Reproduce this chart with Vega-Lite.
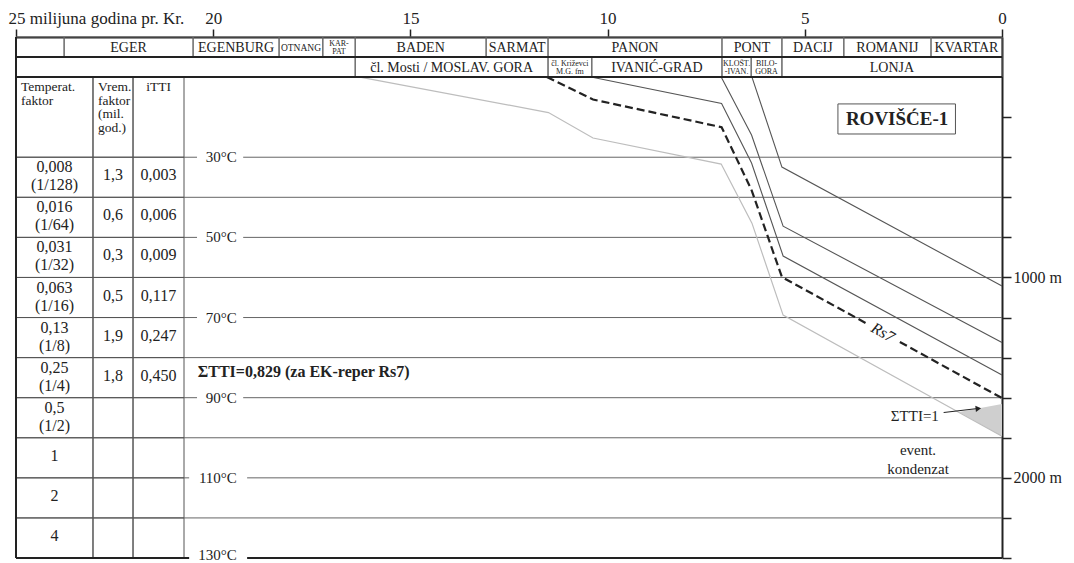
{
  "$schema": "https://vega.github.io/schema/vega-lite/v6.json",
  "width": 986,
  "height": 521,
  "autosize": {"type": "none"},
  "padding": {"left": 16, "top": 37, "right": 72, "bottom": 5},
  "background": "white",
  "config": {"view": {"stroke": null}, "font": "Liberation Serif"},
  "datasets": {
    "hdr": [
      {"t": 25, "t2": 23.78, "d": -200, "d2": -100, "name": "", "kind": "big"},
      {"t": 23.78, "t2": 20.51, "d": -200, "d2": -100, "name": "EGER", "kind": "big"},
      {"t": 20.51, "t2": 18.33, "d": -200, "d2": -100, "name": "EGENBURG", "kind": "big"},
      {"t": 18.33, "t2": 17.22, "d": -200, "d2": -100, "name": "OTNANG", "kind": "mid"},
      {"t": 17.22, "t2": 16.4, "d": -200, "d2": -100, "name": "KAR-\nPAT", "kind": "small"},
      {"t": 16.4, "t2": 13.08, "d": -200, "d2": -100, "name": "BADEN", "kind": "big"},
      {"t": 13.08, "t2": 11.51, "d": -200, "d2": -100, "name": "SARMAT", "kind": "big"},
      {"t": 11.51, "t2": 7.1, "d": -200, "d2": -100, "name": "PANON", "kind": "big"},
      {"t": 7.1, "t2": 5.58, "d": -200, "d2": -100, "name": "PONT", "kind": "big"},
      {"t": 5.58, "t2": 4.01, "d": -200, "d2": -100, "name": "DACIJ", "kind": "big"},
      {"t": 4.01, "t2": 1.8, "d": -200, "d2": -100, "name": "ROMANIJ", "kind": "big"},
      {"t": 1.8, "t2": 0, "d": -200, "d2": -100, "name": "KVARTAR", "kind": "big"},
      {"t": 25, "t2": 16.4, "d": -100, "d2": 0, "name": "", "kind": "big"},
      {"t": 16.4, "t2": 11.51, "d": -100, "d2": 0, "name": "čl. Mosti / MOSLAV. GORA", "kind": "big"},
      {"t": 11.51, "t2": 10.4, "d": -100, "d2": 0, "name": "čl. Križevci\nM.G. fm", "kind": "small"},
      {"t": 10.4, "t2": 7.1, "d": -100, "d2": 0, "name": "IVANIĆ-GRAD", "kind": "big"},
      {"t": 7.1, "t2": 6.36, "d": -100, "d2": 0, "name": "KLOŠT.\n-IVAN.", "kind": "small"},
      {"t": 6.36, "t2": 5.58, "d": -100, "d2": 0, "name": "BILO-\nGORA", "kind": "small"},
      {"t": 5.58, "t2": 0, "d": -100, "d2": 0, "name": "LONJA", "kind": "big"}
    ],
    "tcells": [
      {"t": 25, "t2": 23.048, "d": 0, "d2": 400, "txt": "", "lines": 0},
      {"t": 23.048, "t2": 22.033, "d": 0, "d2": 400, "txt": "", "lines": 0},
      {"t": 22.033, "t2": 20.74, "d": 0, "d2": 400, "txt": "", "lines": 0},
      {"t": 25, "t2": 23.048, "d": 400, "d2": 600, "txt": "0,008\n(1/128)", "lines": 2},
      {"t": 23.048, "t2": 22.033, "d": 400, "d2": 600, "txt": "1,3", "lines": 1},
      {"t": 22.033, "t2": 20.74, "d": 400, "d2": 600, "txt": "0,003", "lines": 1},
      {"t": 25, "t2": 23.048, "d": 600, "d2": 800, "txt": "0,016\n(1/64)", "lines": 2},
      {"t": 23.048, "t2": 22.033, "d": 600, "d2": 800, "txt": "0,6", "lines": 1},
      {"t": 22.033, "t2": 20.74, "d": 600, "d2": 800, "txt": "0,006", "lines": 1},
      {"t": 25, "t2": 23.048, "d": 800, "d2": 1000, "txt": "0,031\n(1/32)", "lines": 2},
      {"t": 23.048, "t2": 22.033, "d": 800, "d2": 1000, "txt": "0,3", "lines": 1},
      {"t": 22.033, "t2": 20.74, "d": 800, "d2": 1000, "txt": "0,009", "lines": 1},
      {"t": 25, "t2": 23.048, "d": 1000, "d2": 1200, "txt": "0,063\n(1/16)", "lines": 2},
      {"t": 23.048, "t2": 22.033, "d": 1000, "d2": 1200, "txt": "0,5", "lines": 1},
      {"t": 22.033, "t2": 20.74, "d": 1000, "d2": 1200, "txt": "0,117", "lines": 1},
      {"t": 25, "t2": 23.048, "d": 1200, "d2": 1400, "txt": "0,13\n(1/8)", "lines": 2},
      {"t": 23.048, "t2": 22.033, "d": 1200, "d2": 1400, "txt": "1,9", "lines": 1},
      {"t": 22.033, "t2": 20.74, "d": 1200, "d2": 1400, "txt": "0,247", "lines": 1},
      {"t": 25, "t2": 23.048, "d": 1400, "d2": 1600, "txt": "0,25\n(1/4)", "lines": 2},
      {"t": 23.048, "t2": 22.033, "d": 1400, "d2": 1600, "txt": "1,8", "lines": 1},
      {"t": 22.033, "t2": 20.74, "d": 1400, "d2": 1600, "txt": "0,450", "lines": 1},
      {"t": 25, "t2": 23.048, "d": 1600, "d2": 1800, "txt": "0,5\n(1/2)", "lines": 2},
      {"t": 23.048, "t2": 22.033, "d": 1600, "d2": 1800, "txt": "", "lines": 0},
      {"t": 22.033, "t2": 20.74, "d": 1600, "d2": 1800, "txt": "", "lines": 0},
      {"t": 25, "t2": 23.048, "d": 1800, "d2": 2000, "txt": "1", "lines": 1},
      {"t": 23.048, "t2": 22.033, "d": 1800, "d2": 2000, "txt": "", "lines": 0},
      {"t": 22.033, "t2": 20.74, "d": 1800, "d2": 2000, "txt": "", "lines": 0},
      {"t": 25, "t2": 23.048, "d": 2000, "d2": 2200, "txt": "2", "lines": 1},
      {"t": 23.048, "t2": 22.033, "d": 2000, "d2": 2200, "txt": "", "lines": 0},
      {"t": 22.033, "t2": 20.74, "d": 2000, "d2": 2200, "txt": "", "lines": 0},
      {"t": 25, "t2": 23.048, "d": 2200, "d2": 2400, "txt": "4", "lines": 1},
      {"t": 23.048, "t2": 22.033, "d": 2200, "d2": 2400, "txt": "", "lines": 0},
      {"t": 22.033, "t2": 20.74, "d": 2200, "d2": 2400, "txt": "", "lines": 0}
    ],
    "theadl": [
      {"t": 25, "d": 0, "txt": "Temperat.\nfaktor"},
      {"t": 23.048, "d": 0, "txt": "Vrem.\nfaktor\n(mil.\ngod.)"}
    ],
    "theadc": [
      {"t": 22.033, "t2": 20.74, "d": 0, "txt": "iTTI"}
    ],
    "grid": [
      {"t": 20.74, "t2": 0, "d": 600},
      {"t": 20.74, "t2": 0, "d": 1000},
      {"t": 20.74, "t2": 0, "d": 1400},
      {"t": 20.74, "t2": 0, "d": 1800},
      {"t": 20.74, "t2": 0, "d": 2200},
      {"t": 20.74, "t2": 20.41, "d": 400},
      {"t": 19.24, "t2": 0, "d": 400},
      {"t": 20.74, "t2": 20.41, "d": 800},
      {"t": 19.24, "t2": 0, "d": 800},
      {"t": 20.74, "t2": 20.41, "d": 1200},
      {"t": 19.24, "t2": 0, "d": 1200},
      {"t": 20.74, "t2": 20.41, "d": 1600},
      {"t": 19.24, "t2": 0, "d": 1600},
      {"t": 20.74, "t2": 20.61, "d": 2000},
      {"t": 19.14, "t2": 0, "d": 2000}
    ],
    "frame": [
      {"t": 25, "t2": 25, "d": -200, "d2": 2400},
      {"t": 25, "t2": 0, "d": -100, "d2": -100},
      {"t": 25, "t2": 0, "d": 0, "d2": 0},
      {"t": 25, "t2": 20.61, "d": 2400, "d2": 2400},
      {"t": 19.14, "t2": 0, "d": 2400, "d2": 2400}
    ],
    "burial": [
      {"s": "A", "t": 16.28, "d": 0},
      {"s": "A", "t": 11.5, "d": 177},
      {"s": "A", "t": 10.37, "d": 304},
      {"s": "A", "t": 7.12, "d": 434},
      {"s": "A", "t": 6.34, "d": 729},
      {"s": "A", "t": 5.55, "d": 1188},
      {"s": "A", "t": 0, "d": 1792},
      {"s": "B1", "t": 11.54, "d": 0},
      {"s": "B1", "t": 10.37, "d": 112},
      {"s": "B1", "t": 7.11, "d": 250},
      {"s": "B1", "t": 6.35, "d": 564},
      {"s": "B1", "t": 5.58, "d": 998},
      {"s": "B1", "t": 3.45, "d": 1228},
      {"s": "B2", "t": 2.59, "d": 1322},
      {"s": "B2", "t": 0, "d": 1602},
      {"s": "C", "t": 10.42, "d": 0},
      {"s": "C", "t": 7.11, "d": 132},
      {"s": "C", "t": 6.35, "d": 429},
      {"s": "C", "t": 5.55, "d": 893},
      {"s": "C", "t": 0, "d": 1487},
      {"s": "E", "t": 7.12, "d": 0},
      {"s": "E", "t": 6.35, "d": 289},
      {"s": "E", "t": 5.55, "d": 744},
      {"s": "E", "t": 0, "d": 1325},
      {"s": "D", "t": 6.34, "d": 0},
      {"s": "D", "t": 5.58, "d": 449},
      {"s": "D", "t": 0, "d": 1043}
    ],
    "temps": [
      {"t": 19.4, "d": 400, "label": "30°C"},
      {"t": 19.4, "d": 800, "label": "50°C"},
      {"t": 19.4, "d": 1200, "label": "70°C"},
      {"t": 19.4, "d": 1600, "label": "90°C"},
      {"t": 19.4, "d": 2000, "label": "110°C"},
      {"t": 19.4, "d": 2400, "label": "130°C"}
    ]
  },
  "encoding": {
    "x": {
      "field": "t", "type": "quantitative",
      "scale": {"domain": [0, 25], "reverse": true, "nice": false, "zero": false},
      "axis": {
        "orient": "top", "values": [25, 20, 15, 10, 5, 0], "title": null, "grid": false,
        "tickSize": 8, "tickColor": "#222", "tickWidth": 1.5,
        "domainColor": "#222", "domainWidth": 2,
        "labelFont": "Liberation Serif", "labelFontSize": 17, "labelColor": "#222",
        "labelPadding": 2, "labelFlush": false, "labelOverlap": false,
        "labelExpr": "datum.value == 25 ? '25 milijuna godina pr. Kr.' : datum.label",
        "labelAlign": {"condition": {"test": "datum.value == 25", "value": "left"}, "value": "center"},
        "labelOffset": {"condition": {"test": "datum.value == 25", "value": -8}, "value": 0}
      }
    },
    "y": {
      "field": "d", "type": "quantitative",
      "scale": {"domain": [-200, 2400], "reverse": true, "nice": false, "zero": false},
      "axis": {
        "orient": "right", "values": [200, 400, 600, 800, 1000, 1200, 1400, 1600, 1800, 2000, 2200, 2400],
        "title": null, "grid": false,
        "tickSize": 9, "tickColor": "#222", "tickWidth": 1.5,
        "domainColor": "#222", "domainWidth": 2,
        "labelFont": "Liberation Serif", "labelFontSize": 16, "labelColor": "#222",
        "labelPadding": 2, "labelOverlap": false,
        "labelExpr": "datum.value == 1000 ? '1000 m' : datum.value == 2000 ? '2000 m' : ''"
      }
    }
  },
  "layer": [
    {
      "data": {"name": "hdr"},
      "mark": {"type": "rect", "filled": false, "color": "#666", "strokeWidth": 1},
      "encoding": {"x2": {"field": "t2"}, "y2": {"field": "d2"}}
    },
    {
      "data": {"name": "tcells"},
      "mark": {"type": "rect", "filled": false, "color": "#555", "strokeWidth": 1},
      "encoding": {"x2": {"field": "t2"}, "y2": {"field": "d2"}}
    },
    {
      "data": {"name": "grid"},
      "mark": {"type": "rule", "color": "#666", "strokeWidth": 1},
      "encoding": {"x2": {"field": "t2"}}
    },
    {
      "data": {"values": [
        {"t": 1.09, "d": 1672, "d2": 1672},
        {"t": 0, "d": 1632, "d2": 1792}
      ]},
      "mark": {"type": "area", "color": "#cfcfcf", "opacity": 1},
      "encoding": {"y2": {"field": "d2"}}
    },
    {
      "data": {"name": "burial"},
      "transform": [{"filter": "datum.s == 'A'"}],
      "mark": {"type": "line", "color": "#bdbdbd", "strokeWidth": 1.2},
      "encoding": {"detail": {"field": "s"}}
    },
    {
      "data": {"name": "burial"},
      "transform": [{"filter": "datum.s == 'C' || datum.s == 'D' || datum.s == 'E'"}],
      "mark": {"type": "line", "color": "#555", "strokeWidth": 1.1},
      "encoding": {"detail": {"field": "s"}}
    },
    {
      "data": {"name": "burial"},
      "transform": [{"filter": "datum.s == 'B1' || datum.s == 'B2'"}],
      "mark": {"type": "line", "color": "#222", "strokeWidth": 2.2, "strokeDash": [8, 4]},
      "encoding": {"detail": {"field": "s"}}
    },
    {
      "data": {"name": "frame"},
      "mark": {"type": "rule", "color": "#222", "strokeWidth": 2},
      "encoding": {"x2": {"field": "t2"}, "y2": {"field": "d2"}}
    },
    {
      "data": {"values": [{"t": 4.16, "t2": 1.18, "d": 134, "d2": 284}]},
      "mark": {"type": "rect", "filled": false, "color": "#555", "strokeWidth": 1},
      "encoding": {"x2": {"field": "t2"}, "y2": {"field": "d2"}}
    },
    {
      "data": {"values": [{"t": 1.48, "t2": 0.66, "d": 1674, "d2": 1655}]},
      "mark": {"type": "rule", "color": "#222", "strokeWidth": 1},
      "encoding": {"x2": {"field": "t2"}, "y2": {"field": "d2"}}
    },
    {
      "data": {"values": [{"t": 0.6, "d": 1654}]},
      "mark": {"type": "point", "shape": "triangle-right", "filled": true, "color": "#222", "size": 40, "angle": -6, "opacity": 1}
    },
    {
      "data": {"name": "hdr"},
      "transform": [
        {"filter": "datum.kind == 'big' && datum.name != ''"},
        {"calculate": "(datum.t + datum.t2) / 2", "as": "t"},
        {"calculate": "(datum.d + datum.d2) / 2", "as": "d"}
      ],
      "mark": {"type": "text", "fontSize": 14, "color": "#222", "align": "center", "baseline": "middle", "dy": 1},
      "encoding": {"text": {"field": "name"}}
    },
    {
      "data": {"name": "hdr"},
      "transform": [
        {"filter": "datum.kind == 'mid'"},
        {"calculate": "(datum.t + datum.t2) / 2", "as": "t"},
        {"calculate": "(datum.d + datum.d2) / 2", "as": "d"}
      ],
      "mark": {"type": "text", "fontSize": 9.5, "color": "#222", "align": "center", "baseline": "middle", "dy": 1},
      "encoding": {"text": {"field": "name"}}
    },
    {
      "data": {"name": "hdr"},
      "transform": [
        {"filter": "datum.kind == 'small'"},
        {"calculate": "(datum.t + datum.t2) / 2", "as": "t"},
        {"calculate": "(datum.d + datum.d2) / 2", "as": "d"}
      ],
      "mark": {"type": "text", "fontSize": 8, "lineHeight": 8.5, "lineBreak": "\n", "color": "#222", "align": "center", "baseline": "middle", "dy": -3.5},
      "encoding": {"text": {"field": "name"}}
    },
    {
      "data": {"name": "tcells"},
      "transform": [
        {"filter": "datum.lines == 2"},
        {"calculate": "(datum.t + datum.t2) / 2", "as": "t"},
        {"calculate": "(datum.d + datum.d2) / 2", "as": "d"}
      ],
      "mark": {"type": "text", "fontSize": 16, "lineHeight": 18, "lineBreak": "\n", "color": "#222", "align": "center", "baseline": "middle", "dy": -10},
      "encoding": {"text": {"field": "txt"}}
    },
    {
      "data": {"name": "tcells"},
      "transform": [
        {"filter": "datum.lines == 1"},
        {"calculate": "(datum.t + datum.t2) / 2", "as": "t"},
        {"calculate": "(datum.d + datum.d2) / 2", "as": "d"}
      ],
      "mark": {"type": "text", "fontSize": 16, "color": "#222", "align": "center", "baseline": "middle", "dy": -2},
      "encoding": {"text": {"field": "txt"}}
    },
    {
      "data": {"name": "theadl"},
      "mark": {"type": "text", "fontSize": 13.5, "lineHeight": 13.5, "lineBreak": "\n", "color": "#222", "align": "left", "baseline": "top", "dx": 5, "dy": 3},
      "encoding": {"text": {"field": "txt"}}
    },
    {
      "data": {"name": "theadc"},
      "transform": [{"calculate": "(datum.t + datum.t2) / 2", "as": "t"}],
      "mark": {"type": "text", "fontSize": 13.5, "color": "#222", "align": "center", "baseline": "top", "dy": 3},
      "encoding": {"text": {"field": "txt"}}
    },
    {
      "data": {"name": "temps"},
      "transform": [{"filter": "datum.d < 2400"}],
      "mark": {"type": "text", "fontSize": 15, "color": "#222", "align": "right", "baseline": "middle"},
      "encoding": {"text": {"field": "label"}}
    },
    {
      "data": {"name": "temps"},
      "transform": [{"filter": "datum.d >= 2400"}],
      "mark": {"type": "text", "fontSize": 15, "color": "#222", "align": "right", "baseline": "middle", "dy": -3},
      "encoding": {"text": {"field": "label"}}
    },
    {
      "data": {"values": [{"t": 2.66, "d": 210, "txt": "ROVIŠĆE-1"}]},
      "mark": {"type": "text", "fontSize": 19, "fontWeight": "bold", "color": "#222", "align": "center", "baseline": "middle"},
      "encoding": {"text": {"field": "txt"}}
    },
    {
      "data": {"values": [{"t": 3.02, "d": 1275, "txt": "Rs7"}]},
      "mark": {"type": "text", "fontSize": 16, "fontStyle": "italic", "color": "#222", "align": "center", "baseline": "middle", "angle": 29},
      "encoding": {"text": {"field": "txt"}}
    },
    {
      "data": {"values": [{"t": 2.21, "d": 1692, "txt": "ΣTTI=1"}]},
      "mark": {"type": "text", "fontSize": 15, "color": "#222", "align": "center", "baseline": "middle"},
      "encoding": {"text": {"field": "txt"}}
    },
    {
      "data": {"values": [{"t": 2.13, "d": 1908, "txt": "event.\nkondenzat"}]},
      "mark": {"type": "text", "fontSize": 15, "lineHeight": 18.5, "lineBreak": "\n", "color": "#222", "align": "center", "baseline": "middle", "dy": -9},
      "encoding": {"text": {"field": "txt"}}
    },
    {
      "data": {"values": [{"t": 20.39, "d": 1472, "txt": "ΣTTI=0,829 (za EK-reper Rs7)"}]},
      "mark": {"type": "text", "fontSize": 16, "fontWeight": "bold", "color": "#222", "align": "left", "baseline": "middle"},
      "encoding": {"text": {"field": "txt"}}
    }
  ]
}
